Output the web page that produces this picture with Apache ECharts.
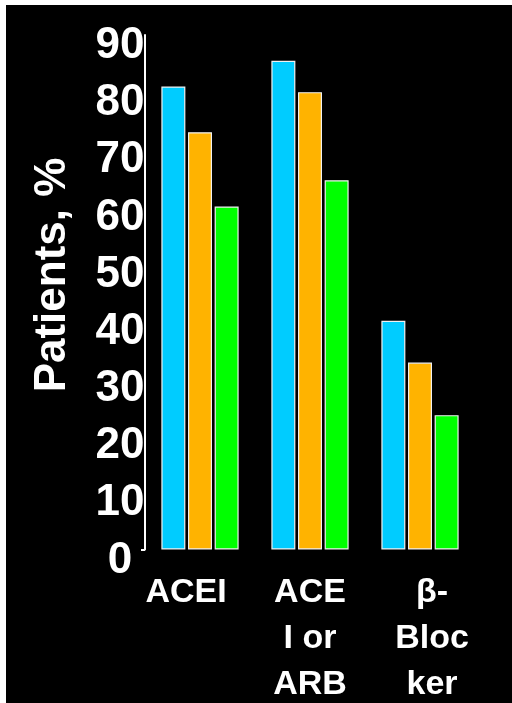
<!DOCTYPE html>
<html>
<head>
<meta charset="utf-8">
<script src="https://cdn.jsdelivr.net/npm/echarts@6/dist/echarts.min.js"></script>
<style>
  html, body { margin: 0; padding: 0; background: #ffffff; }
  #chart { position: absolute; left: 6px; top: 5px; width: 506px; height: 698px; background: #000000; }
</style>
</head>
<body>
<div id="chart"></div>
<script>
// Categories along the x axis
const categories = ['ACEI', 'ACE\nI or\nARB', 'β-\nBloc\nker'];
// Percent of patients per category, three bars each
const seriesBlue = [81, 85.5, 40];
const seriesOrange = [73, 80, 32.7];
const seriesGreen = [60, 64.6, 23.5];
// Y axis range and step
const yMin = 0;
const yMax = 90;
const yStep = 10;
const yTitle = 'Patients, %';

const FONT = '"Liberation Sans", Arial, Helvetica, sans-serif';
const chart = echarts.init(document.getElementById('chart'), null, { renderer: 'canvas' });

// Small horizontal nudges for the category labels
const labelShift = [-14, 0, 12];

function barSeries(name, data, color) {
  return {
    name: name,
    type: 'bar',
    data: data,
    barWidth: 24,
    barGap: '11%',
    itemStyle: { color: color, borderColor: '#f0f0f0', borderWidth: 1.2 }
  };
}

const richBase = { fontSize: 34, fontWeight: 'bold', fontFamily: FONT, color: '#ffffff', lineHeight: 46 };

chart.setOption({
  backgroundColor: '#000000',
  animation: false,
  grid: { left: 139, right: 37, top: 30, bottom: 153.5, containLabel: false },
  xAxis: {
    type: 'category',
    data: categories,
    axisLine: { show: false },
    axisTick: { show: false },
    axisLabel: {
      interval: 0,
      margin: 20,
      formatter: function (value) {
        const key = 's' + categories.indexOf(value);
        return value.split('\n').map(function (line) { return '{' + key + '|' + line + '}'; }).join('\n');
      },
      rich: {
        s0: Object.assign({}, richBase, { padding: [0, -2 * labelShift[0], 0, 0] }),
        s1: Object.assign({}, richBase),
        s2: Object.assign({}, richBase, { padding: [0, 0, 0, 2 * labelShift[2]] })
      }
    }
  },
  yAxis: {
    type: 'value',
    min: yMin,
    max: yMax,
    interval: yStep,
    splitLine: { show: false },
    axisLine: { show: true, lineStyle: { color: '#ffffff', width: 2 } },
    axisTick: { show: true, customValues: [0], length: 4, lineStyle: { color: '#ffffff', width: 2 } },
    axisLabel: {
      color: '#ffffff',
      fontSize: 44,
      fontWeight: 'bold',
      fontFamily: FONT,
      margin: 25,
      align: 'center',
      verticalAlign: 'top',
      lineHeight: 22
    }
  },
  graphic: [{
    type: 'text',
    x: 47,
    y: 270,
    rotation: Math.PI / 2,
    style: {
      text: yTitle,
      fill: '#ffffff',
      font: 'bold 44px ' + FONT,
      textAlign: 'center',
      textVerticalAlign: 'middle'
    }
  }],
  series: [
    barSeries('s1', seriesBlue, '#00ccff'),
    barSeries('s2', seriesOrange, '#ffb300'),
    barSeries('s3', seriesGreen, '#00ff00')
  ]
});
</script>
</body>
</html>
